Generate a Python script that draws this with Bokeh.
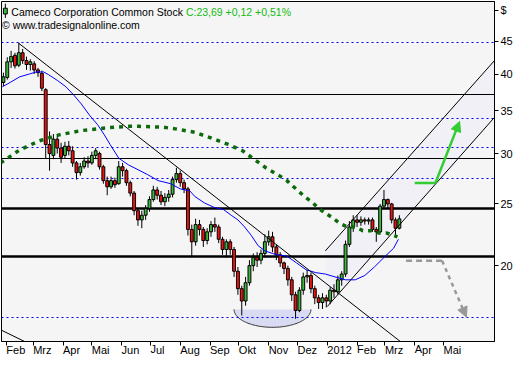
import numpy as np
import pandas as pd
from bokeh.plotting import figure
from bokeh.models import FixedTicker, Label, Arrow, NormalHead, PrintfTickFormatter
from bokeh.embed import file_html
from bokeh.resources import INLINE

FONT = "Liberation Sans"
BASE = pd.Timestamp("2011-02-01")

# ---------------- candles (one candle per 4 calendar days) ----------------
candle_first = "2011-01-29"
opens = [38.8, 39.5, 41.8, 42.8, 41.3, 43.2, 42.0, 41.4, 41.5, 40.6,
         40.1, 37.8, 31.0, 29.8, 31.6, 30.6, 29.8, 30.8, 30.3, 29.0,
         28.0, 28.6, 29.2, 29.0, 29.8, 30.0, 28.6, 27.2, 26.6, 27.2,
         26.9, 28.6, 28.2, 27.0, 26.0, 24.4, 23.6, 24.0, 24.6, 25.4,
         26.3, 25.8, 25.2, 25.6, 25.9, 27.3, 27.9, 27.0, 26.4, 22.8,
         21.8, 23.2, 22.8, 21.9, 22.6, 23.2, 23.0, 22.0, 21.2, 21.8,
         21.2, 19.6, 18.4, 17.6, 18.8, 20.0, 20.6, 20.4, 20.9, 21.8,
         22.2, 21.4, 20.8, 20.2, 19.8, 19.0, 18.0, 17.0, 18.3, 19.2,
         19.3, 18.4, 17.8, 17.5, 17.8, 17.6, 18.3, 18.2, 19.0, 19.4,
         21.6, 23.0, 23.6, 23.4, 23.6, 23.5, 23.6, 22.8, 22.6, 24.8,
         25.4, 25.0, 23.6, 22.9]
highs = [40.2, 42.5, 43.5, 43.2, 44.8, 43.8, 42.6, 42.2, 41.9, 40.9,
         40.5, 38.0, 32.5, 32.2, 32.0, 31.2, 31.3, 31.4, 30.8, 29.2,
         29.0, 29.6, 29.7, 30.2, 30.6, 30.2, 28.8, 27.6, 27.6, 27.5,
         29.2, 29.0, 28.4, 27.2, 26.2, 24.6, 24.4, 24.9, 25.7, 26.7,
         26.6, 26.2, 26.0, 26.3, 27.6, 28.5, 28.2, 27.3, 26.6, 23.2,
         23.7, 23.6, 23.0, 22.9, 23.5, 23.8, 23.2, 22.2, 22.0, 22.0,
         21.4, 19.9, 18.6, 19.2, 20.4, 20.9, 21.0, 21.2, 22.4, 22.7,
         22.6, 21.6, 21.0, 20.3, 20.0, 19.2, 18.2, 18.5, 19.5, 19.7,
         19.5, 18.6, 18.0, 18.1, 18.0, 18.5, 18.7, 19.3, 19.6, 21.9,
         23.5, 24.0, 24.0, 23.9, 23.8, 23.8, 23.8, 23.0, 25.0, 26.3,
         25.5, 25.1, 23.8, 24.0]
lows = [38.3, 39.2, 40.9, 40.8, 41.0, 41.5, 40.6, 40.5, 40.0, 39.6,
        37.6, 29.5, 28.2, 29.4, 30.0, 29.0, 29.5, 29.8, 28.6, 27.3,
        27.7, 28.4, 28.5, 28.8, 29.4, 28.3, 26.9, 25.8, 26.4, 26.5,
        26.8, 27.6, 26.7, 25.7, 24.0, 23.1, 22.9, 23.6, 24.3, 25.2,
        25.4, 24.9, 24.8, 25.2, 25.6, 27.0, 26.6, 26.0, 22.3, 20.6,
        21.5, 22.3, 21.4, 21.6, 22.2, 22.6, 21.7, 20.8, 20.6, 20.8,
        19.2, 18.0, 16.7, 17.3, 18.6, 19.6, 19.9, 20.1, 20.6, 21.5,
        21.0, 20.4, 19.9, 19.4, 18.6, 17.6, 16.5, 16.9, 18.0, 18.8,
        18.1, 17.4, 17.1, 17.1, 17.2, 17.4, 17.8, 18.0, 18.6, 19.2,
        21.4, 22.6, 23.0, 23.1, 23.2, 23.2, 22.6, 21.8, 22.5, 24.6,
        24.6, 23.3, 22.3, 22.8]
closes = [39.6, 41.8, 42.6, 41.2, 43.2, 42.0, 41.4, 41.8, 40.6, 40.2,
          38.0, 31.0, 30.0, 31.6, 30.6, 29.6, 30.8, 30.3, 29.0, 28.0,
          28.6, 29.2, 29.0, 29.8, 30.3, 28.6, 27.2, 26.6, 27.2, 26.8,
          28.6, 28.2, 27.0, 26.0, 24.4, 23.6, 24.0, 24.6, 25.4, 26.3,
          25.8, 25.2, 25.6, 25.9, 27.3, 27.9, 27.0, 26.4, 22.8, 21.8,
          23.2, 22.8, 21.9, 22.6, 23.2, 23.0, 22.0, 21.2, 21.8, 21.2,
          19.6, 18.4, 17.6, 18.8, 20.0, 20.6, 20.4, 20.9, 21.8, 22.2,
          21.4, 20.8, 20.2, 19.8, 19.0, 18.0, 17.0, 18.3, 19.2, 19.3,
          18.4, 17.8, 17.5, 17.8, 17.6, 18.3, 18.2, 19.0, 19.4, 21.6,
          23.0, 23.6, 23.4, 23.6, 23.5, 23.6, 22.8, 22.6, 24.8, 25.4,
          25.0, 23.6, 22.9, 23.69]

# ---------------- moving averages (days since 2011-02-01, price) ----------------
ma_fast_days = [-4, 4, 14, 24, 31, 39, 44, 53, 62, 70,
                78, 87, 95, 102, 108, 117, 127, 137, 147, 158,
                171, 181, 191, 196, 206, 216, 226, 234, 241, 248,
                255, 262, 269, 277, 282, 292, 302, 312, 322, 332,
                342, 353, 363, 373, 383, 393, 403, 408]
ma_fast_vals = [38.2, 38.8, 39.6, 40.0, 40.3, 40.3, 39.9, 39.1, 38.2, 37.1,
                35.9, 34.4, 33.3, 32.1, 31.0, 29.5, 28.8, 28.3, 27.8, 27.2,
                26.9, 26.4, 26.2, 25.7, 25.1, 24.7, 24.5, 24.0, 23.6, 23.0,
                22.3, 21.5, 21.1, 20.9, 20.8, 20.7, 20.2, 19.7, 19.5, 19.4,
                19.2, 19.0, 19.0, 19.3, 19.9, 20.6, 21.3, 22.0]
ma_slow_days = [-6, 14, 34, 55, 78, 95, 112, 128, 138, 163,
                176, 196, 214, 231, 246, 255, 270, 284, 292, 299,
                310, 319, 325, 339, 347, 355, 363, 371, 380, 388,
                396, 407]
ma_slow_vals = [29.0, 30.4, 31.4, 32.1, 32.6, 32.8, 33.0, 33.1, 33.1, 33.0,
                32.8, 32.4, 31.7, 31.0, 30.3, 29.6, 28.5, 27.7, 27.2, 26.6,
                25.7, 25.1, 24.6, 23.8, 23.3, 23.0, 23.0, 22.7, 22.7, 22.5,
                22.5, 22.2]

# ---------------- drawing tools (days, price) ----------------
fib_levels = [44.9, 34.1, 30.7, 27.4, 16.6]
thin_levels = [37.1, 29.5]
thick_levels = [24.6, 20.7]
down_trend_days = [13, 410]
down_trend_vals = [44.7, 15.2]
side_trend_days = [-16, 19]
side_trend_vals = [16.13, 15.2]
chan_up_days = [332, 508]
chan_up_vals = [21.1, 42.0]
chan_lo_days = [334, 508]
chan_lo_vals = [17.25, 34.2]
bowl_center_day = 277
bowl_half_days = 40
bowl_top_val = 17.07
bowl_bottom_val = 16.0
bull_days = [425, 446.5, 471.7]
bull_vals = [26.97, 26.97, 33.7]
bear_days = [416, 453.5, 478.8]
bear_vals = [20.35, 20.35, 16.6]

month_labels = ["Feb", "Mrz", "Apr", "Mai", "Jun", "Jul", "Aug", "Sep", "Okt",
                "Nov", "Dez", "2012", "Feb", "Mrz", "Apr", "Mai"]
month_starts = pd.date_range("2011-02-01", periods=len(month_labels), freq="MS")
y_ticks = [20, 25, 30, 35, 40, 45]
currency_label = "$"
currency_level = 50.4

# ---------------- figure ----------------
W, H = 515, 364
p = figure(width=W, height=H, y_axis_type="log", y_axis_location="right",
           x_range=(-5, 508), y_range=(15.2, 52.0),
           output_backend="svg", toolbar_location=None,
           min_border_left=1, min_border_top=1, min_border_right=21, min_border_bottom=21)
p.background_fill_color = "#f5f5f5"
p.border_fill_color = "white"
p.outline_line_color = "black"
p.grid.visible = False

# channel fill and bowl fill
p.patch(chan_up_days + chan_lo_days[::-1], chan_up_vals + chan_lo_vals[::-1],
        fill_color="#f0f0f6", line_color=None)
t = np.linspace(0, np.pi, 80)
bx = bowl_center_day + bowl_half_days * np.cos(t)
by = np.exp(np.log(bowl_top_val) - (np.log(bowl_top_val) - np.log(bowl_bottom_val)) * np.sin(t))
p.patch(bx, by, fill_color="#d9dbf3", line_color=None)
p.line(bx, by, line_color="#333333", line_width=1)

# horizontal levels
p.hspan(y=fib_levels, line_color="#0000ee", line_width=1.2, line_dash="2 3")
p.hspan(y=thin_levels, line_color="black", line_width=1)
p.hspan(y=thick_levels, line_color="black", line_width=2.5)

# candles
dates = pd.date_range(candle_first, periods=len(closes), freq="4D")
days = np.array((dates - BASE).days, dtype=float)
o = np.array(opens); c = np.array(closes); h = np.array(highs); l = np.array(lows)
up = c >= o
p.segment(days, h, days, l, line_color="black", line_width=1)
p.vbar(x=days[up], width=3.0, top=c[up], bottom=o[up], fill_color="#3cb83c",
       line_color="black", line_width=1)
p.vbar(x=days[~up], width=3.0, top=o[~up], bottom=c[~up], fill_color="#ee1111",
       line_color="black", line_width=1)

# moving averages
p.line(ma_fast_days, ma_fast_vals, line_color="#0000ff", line_width=1)
p.line(ma_slow_days, ma_slow_vals, line_color="#0b6b0b", line_width=3.5, line_dash="4 5")

# trend lines
for xs, ys in [(down_trend_days, down_trend_vals), (side_trend_days, side_trend_vals),
               (chan_up_days, chan_up_vals), (chan_lo_days, chan_lo_vals)]:
    p.line(xs, ys, line_color="black", line_width=1)

# arrows
p.line(bull_days[:2], bull_vals[:2], line_color="#33cc33", line_width=2.5)
p.add_layout(Arrow(end=NormalHead(size=10, fill_color="#33cc33", line_color="#33cc33"),
                   x_start=bull_days[1], y_start=bull_vals[1], x_end=bull_days[2], y_end=bull_vals[2],
                   line_color="#33cc33", line_width=2.5))
p.line(bear_days[:2], bear_vals[:2], line_color="#999999", line_width=2.5, line_dash="6 4")
p.add_layout(Arrow(end=NormalHead(size=10, fill_color="#999999", line_color="#999999"),
                   x_start=bear_days[1], y_start=bear_vals[1], x_end=bear_days[2], y_end=bear_vals[2],
                   line_color="#999999", line_width=2.5, line_dash="4 4"))

# title icon and texts
p.segment([-1], [51.6], [-1], [49.0], line_color="black", line_width=1)
p.vbar(x=[-1], width=4, top=[50.75], bottom=[49.7], fill_color="#3cb83c", line_color="black")
p.add_layout(Label(x=183.8, y=50.14, text="Cameco Corporation Common Stock", text_align="right",
                   text_baseline="middle", text_font=FONT, text_font_size="10.5px",
                   text_color="black"))
p.add_layout(Label(x=186.9, y=50.14, text="C:23,69 +0,12 +0,51%", text_align="left",
                   text_baseline="middle", text_font=FONT, text_font_size="10.5px",
                   text_color="#11bb11"))
p.add_layout(Label(x=-4.5, y=47.7, text="© www.tradesignalonline.com", text_align="left",
                   text_baseline="middle", text_font=FONT, text_font_size="10.5px",
                   text_color="black"))

# axes
tick_days = [int((d - BASE).days) for d in month_starts]
p.xaxis.ticker = FixedTicker(ticks=tick_days)
p.xaxis.major_label_overrides = {d: lab for d, lab in zip(tick_days, month_labels)}
p.xaxis.major_label_orientation = -0.0001
p.xaxis.major_tick_out = 4
p.xaxis.major_tick_in = 0
p.xaxis.minor_tick_line_color = None
p.xaxis.major_label_standoff = 4
p.xaxis.axis_line_color = "black"
p.xaxis.major_label_text_font = FONT
p.xaxis.major_label_text_font_size = "11px"
p.xaxis.major_label_text_color = "black"

# price axis; the currency sign sits above the 45 tick, as in the original
p.yaxis.ticker = FixedTicker(ticks=y_ticks + [currency_level])
p.yaxis.formatter = PrintfTickFormatter(format="%d")
p.yaxis.major_label_overrides = {currency_level: currency_label}
p.yaxis.major_tick_out = 4
p.yaxis.major_tick_in = 0
p.yaxis.minor_tick_line_color = None
p.yaxis.major_label_standoff = 2
p.yaxis.axis_line_color = "black"
p.yaxis.major_label_text_font = FONT
p.yaxis.major_label_text_font_size = "11px"
p.yaxis.major_label_text_color = "black"

open("out.html", "w").write(file_html(p, INLINE))
